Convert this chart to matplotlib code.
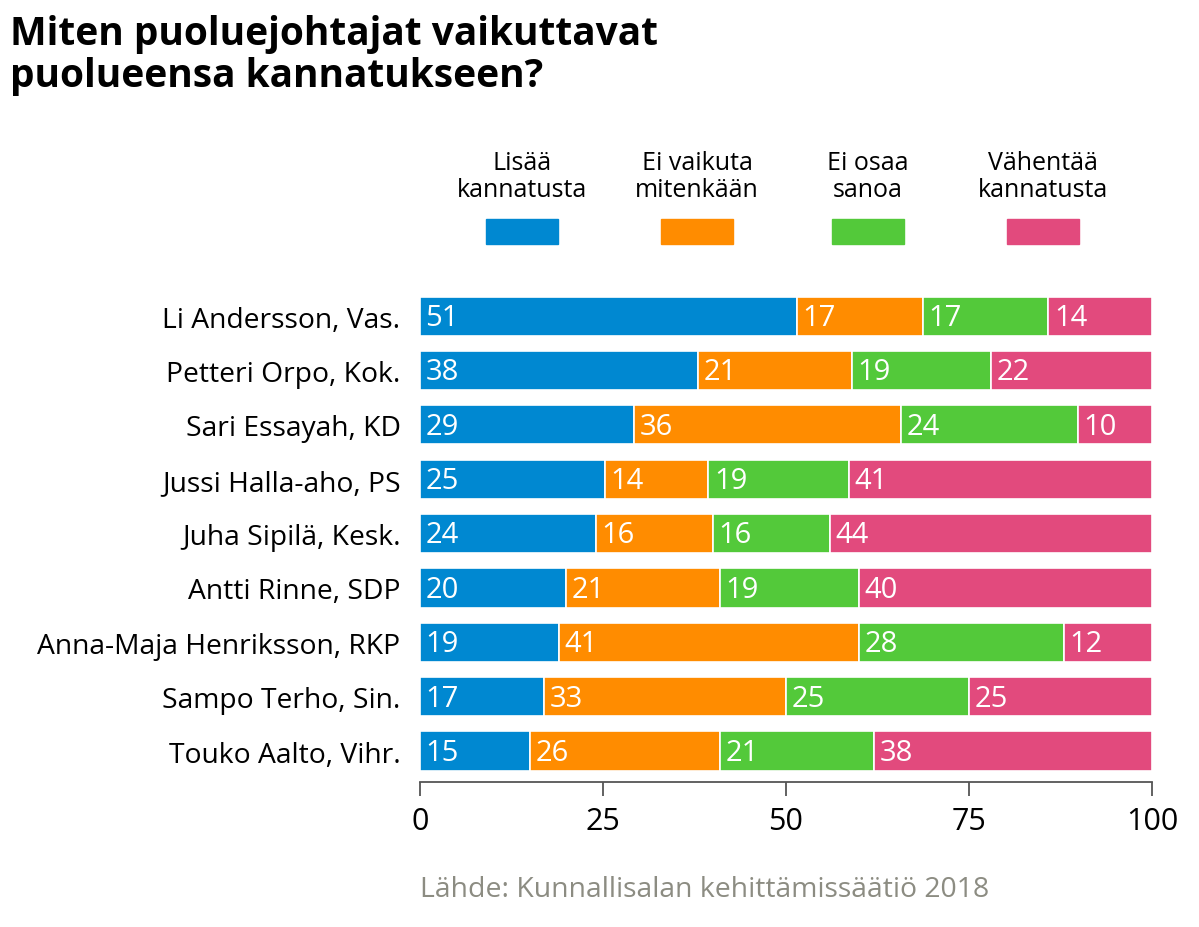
import numpy as np
import matplotlib
matplotlib.use("Agg")
import matplotlib.pyplot as plt

plt.rcParams['font.family'] = ['Open Sans', 'DejaVu Sans']

leaders = ["Li Andersson, Vas.", "Petteri Orpo, Kok.", "Sari Essayah, KD",
           "Jussi Halla-aho, PS", "Juha Sipilä, Kesk.", "Antti Rinne, SDP",
           "Anna-Maja Henriksson, RKP", "Sampo Terho, Sin.", "Touko Aalto, Vihr."]
lisaa = [51, 38, 29, 25, 24, 20, 19, 17, 15]
ei_vaikuta = [17, 21, 36, 14, 16, 21, 41, 33, 26]
ei_osaa = [17, 19, 24, 19, 16, 19, 28, 25, 21]
vahentaa = [14, 22, 10, 41, 44, 40, 12, 25, 38]

series = [lisaa, ei_vaikuta, ei_osaa, vahentaa]
series_names = ["Lisää\nkannatusta", "Ei vaikuta\nmitenkään", "Ei osaa\nsanoa",
                "Vähentää\nkannatusta"]
colors = ["#0088d1", "#ff8c00", "#53c93a", "#e24a7d"]

W, H = 1199, 928
fig = plt.figure(figsize=(W / 100, H / 100), dpi=100)
ax = fig.add_axes((420 / W, 1 - 783 / H, 732 / W, (783 - 290) / H))

vals = np.array(series, dtype=float)
totals = vals.sum(axis=0)
shares = vals / totals * 100
y = np.arange(len(leaders))
left = np.zeros(len(leaders))
for i in range(len(series)):
    ax.barh(y, shares[i], left=left, height=0.72, color=colors[i],
            edgecolor="white", linewidth=1.2)
    for j in range(len(leaders)):
        ax.annotate(str(series[i][j]), (left[j], y[j]), xytext=(4, -1),
                    textcoords="offset points", ha="left", va="center",
                    color="white", fontsize=21)
    left = left + shares[i]

ax.set_xlim(0, 100)
ax.set_ylim(len(leaders) - 1 + 0.57, -0.5)
ax.set_yticks(y)
ax.set_yticklabels(leaders, fontsize=20.3)
ax.tick_params(axis="y", length=0, pad=14)
ax.set_xticks([0, 25, 50, 75, 100])
ax.tick_params(axis="x", length=10, width=1.3, color="#555555", labelsize=22, pad=7)
for s in ["top", "right", "left"]:
    ax.spines[s].set_visible(False)
ax.spines["bottom"].set_color("#555555")
ax.spines["bottom"].set_linewidth(1.3)

# legend
leg_x = [522, 697, 868, 1043]
for i in range(len(series)):
    fig.patches.append(plt.Rectangle(((leg_x[i] - 36) / W, 1 - 245 / H), 72 / W, 25 / H,
                                     transform=fig.transFigure, color=colors[i]))
    fig.text(leg_x[i] / W, 1 - 177 / H, series_names[i], ha="center", va="center",
             fontsize=18, linespacing=1.08)

fig.text(10 / W, 1 - 55 / H, "Miten puoluejohtajat vaikuttavat\npuolueensa kannatukseen?",
         ha="left", va="center", fontsize=28, fontweight="bold", linespacing=1.1)
fig.text(420 / W, 1 - 890 / H, "Lähde: Kunnallisalan kehittämissäätiö 2018",
         ha="left", va="center", fontsize=20.4, color="#8c8c82")

fig.savefig("out.png", dpi=100)
